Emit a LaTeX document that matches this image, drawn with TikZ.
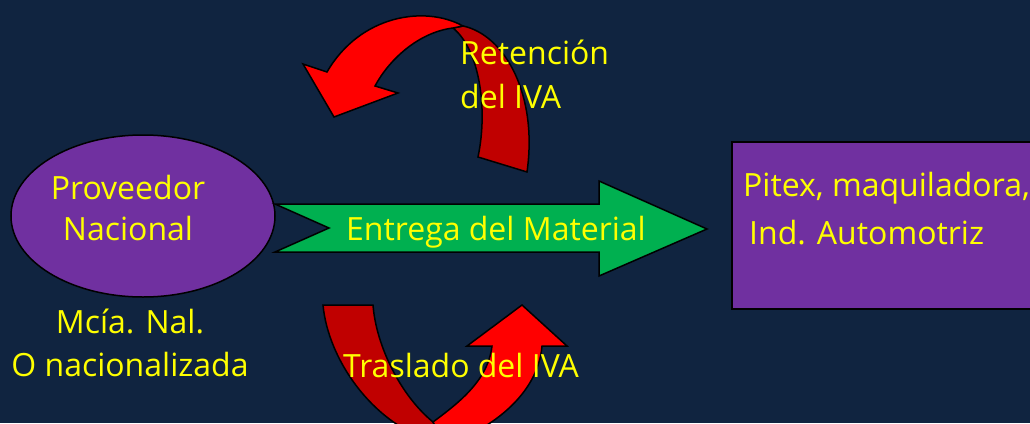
\documentclass[tikz,border=0pt]{standalone}
\usepackage{fontspec}
\setmainfont{Open Sans}
\usetikzlibrary{shapes.geometric}
\definecolor{bg}{RGB}{16,36,64}
\definecolor{purp}{RGB}{112,48,160}
\definecolor{grn}{RGB}{0,176,80}
\definecolor{redA}{RGB}{255,0,0}
\definecolor{redB}{RGB}{192,0,0}
\definecolor{ylw}{RGB}{255,255,0}
\begin{document}
\begin{tikzpicture}[x=1pt,y=-1pt,
  outl/.style={draw=black, line width=1.5pt, line join=miter},
  lbl/.style={text=ylw, font=\fontsize{32}{44}\selectfont, inner sep=0pt}]
\useasboundingbox (0,0) rectangle (1030,423);
\fill[bg] (0,0) rectangle (1030,423);
\begin{scope}
\clip (0,0) rectangle (1030,423);
% top curved arrow: back (dark) part
\path[outl, fill=redB] (453,28) -- (463,26) .. controls (505,35) and (538,95) .. (527,172)
  -- (478,157) .. controls (488,110) and (480,50) .. (453,28) -- cycle;
% top curved arrow: front part with head
\path[outl, fill=redA] (463,26) .. controls (425,5) and (360,15) .. (327,72)
  -- (303,64) -- (334,117) -- (398,93) -- (375,86)
  .. controls (390,58) and (420,32) .. (453,28) -- cycle;
% supplier ellipse
\node[outl, ellipse, fill=purp, minimum width=264pt, minimum height=162pt, inner sep=0pt] (prov) at (143,216) {};
% green block arrow
\path[outl, fill=grn] (275,204) -- (599,204) -- (599,181) -- (707,229) -- (599,276)
  -- (599,252) -- (275,252) -- (329,228) -- cycle;
% destination box
\node[outl, fill=purp, minimum width=320pt, minimum height=167pt, inner sep=0pt, anchor=north west] (dest) at (731,141) {};
% bottom curved arrow: back (dark) part
\path[outl, fill=redB] (323,305) -- (373,305) .. controls (376,345) and (400,395) .. (433,422)
  -- (445,445) .. controls (375,430) and (328,360) .. (323,305) -- cycle;
% bottom curved arrow: front part with head
\path[outl, fill=redA] (433,422) .. controls (460,402) and (488,380) .. (492,346)
  -- (467,346) -- (522,305) -- (567,346) -- (542,346)
  .. controls (538,395) and (490,430) .. (445,445) -- cycle;
\end{scope}
% labels
\node[lbl, align=center] (provtxt) at (128,208) {Proveedor\\[-3pt]Nacional};
\node[lbl, align=center] (mcia) at (130,343) {Mcía. Nal.\\[-1pt]O nacionalizada};
\node[lbl, align=left, anchor=west] (ret) at (460,74) {Retención\\del IVA};
\node[lbl] (tras) at (461,365) {Traslado del IVA};
\node[lbl] (entrega) at (496,232) {Entrega del Material};
\node[lbl, anchor=west] (pitex1) at (743,188) {Pitex, maquiladora,};
\node[lbl, anchor=west] (pitex2) at (749,233) {Ind. Automotriz};
\end{tikzpicture}
\end{document}
